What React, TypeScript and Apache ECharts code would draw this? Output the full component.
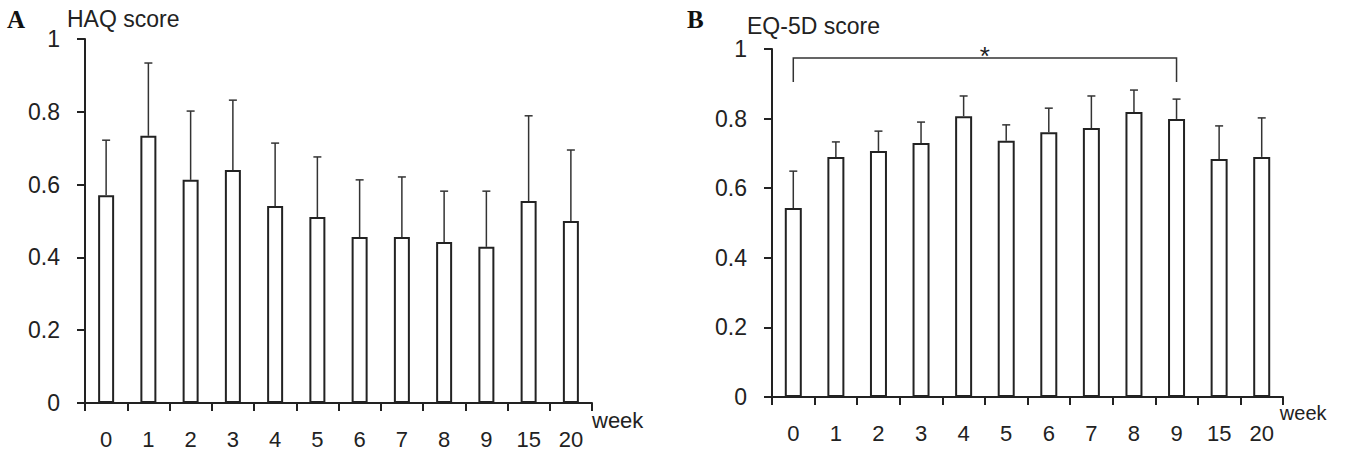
import React, { useEffect, useRef } from "react";
import * as echarts from "echarts";

const weeks = ["0", "1", "2", "3", "4", "5", "6", "7", "8", "9", "15", "20"];
const haqMean = [0.571, 0.734, 0.613, 0.64, 0.541, 0.511, 0.456, 0.456, 0.442, 0.429, 0.555, 0.5];
const haqUpper = [0.722, 0.934, 0.802, 0.832, 0.714, 0.676, 0.613, 0.621, 0.582, 0.582, 0.789, 0.695];
const eqMean = [0.543, 0.69, 0.707, 0.73, 0.807, 0.736, 0.761, 0.773, 0.819, 0.799, 0.684, 0.69];
const eqUpper = [0.649, 0.733, 0.764, 0.79, 0.865, 0.782, 0.83, 0.865, 0.882, 0.856, 0.779, 0.802];
// significance bracket: from category index, to category index, bar height, leg bottom
const bracketFrom = 0;
const bracketTo = 9;
const bracketTop = 0.974;
const bracketLeg = 0.905;
const bracketLabel = "*";

const FONT = "'Liberation Sans', Arial, sans-serif";
const INK = "#222";

function errData(mean: number[], upper: number[]) {
  return mean.map((m, i) => [i, m, upper[i]]);
}

const errRender = (params: any, api: any) => {
  const x = api.value(0);
  const lo = api.coord([x, api.value(1)]);
  const hi = api.coord([x, api.value(2)]);
  const st = { stroke: "#333", lineWidth: 1.5 };
  return {
    type: "group",
    children: [
      { type: "line", shape: { x1: lo[0], y1: lo[1], x2: hi[0], y2: hi[1] }, style: st },
      { type: "line", shape: { x1: hi[0] - 4, y1: hi[1], x2: hi[0] + 4, y2: hi[1] }, style: st },
    ],
  };
};

const bracketRender = (params: any, api: any) => {
  const a = api.coord([api.value(0), api.value(2)]);
  const b = api.coord([api.value(1), api.value(2)]);
  const aLeg = api.coord([api.value(0), api.value(3)]);
  const bLeg = api.coord([api.value(1), api.value(3)]);
  const st = { stroke: "#333", lineWidth: 1.5, fill: "none" };
  return {
    type: "group",
    children: [
      {
        type: "polyline",
        shape: { points: [aLeg, a, b, bLeg] },
        style: st,
      },
      {
        type: "text",
        x: (a[0] + b[0]) / 2,
        y: a[1] - 2,
        style: {
          text: bracketLabel,
          font: `26px ${FONT}`,
          fill: INK,
          align: "center",
          verticalAlign: "middle",
        },
      },
    ],
  };
};

function xAxisCfg(gridIndex: number, nameGap: number, nameSize: number) {
  return {
    type: "category",
    gridIndex,
    data: weeks,
    name: "week",
    nameLocation: "end",
    nameGap,
    nameTextStyle: {
      fontFamily: FONT,
      fontSize: nameSize,
      color: INK,
      verticalAlign: "top",
      align: "left",
      padding: [6, 0, 0, 0],
    },
    axisLine: { show: true, lineStyle: { color: INK, width: 2 } },
    axisTick: { show: true, length: 8, lineStyle: { color: INK, width: 2 } },
    axisLabel: { margin: 25, fontFamily: FONT, fontSize: 22, color: INK },
    splitLine: { show: false },
  };
}

function yAxisCfg(gridIndex: number) {
  return {
    type: "value",
    gridIndex,
    min: 0,
    max: 1,
    interval: 0.2,
    axisLine: { show: true, lineStyle: { color: INK, width: 2 } },
    axisTick: { show: true, length: 8, lineStyle: { color: INK, width: 2 } },
    axisLabel: { margin: 25, fontFamily: FONT, fontSize: 23, color: INK },
    splitLine: { show: false },
  };
}

const barStyle = { color: "#fff", borderColor: INK, borderWidth: 2 };

export default function App() {
  const ref = useRef<HTMLDivElement>(null);
  useEffect(() => {
    if (!ref.current) return;
    const chart = echarts.init(ref.current, null, { renderer: "svg" });
    chart.setOption({
      animation: false,
      backgroundColor: "#fff",
      grid: [
        { left: 85, top: 39, width: 507, height: 364 },
        { left: 772, top: 49, width: 511, height: 348 },
      ],
      xAxis: [xAxisCfg(0, 0, 22), xAxisCfg(1, -4, 20)],
      yAxis: [yAxisCfg(0), yAxisCfg(1)],
      graphic: [
        { type: "text", x: 7, y: 19, style: { text: "A", font: "bold 25px 'Liberation Serif', serif", fill: "#111", verticalAlign: "middle" } },
        { type: "text", x: 67, y: 19, style: { text: "HAQ score", font: `23px ${FONT}`, fill: INK, verticalAlign: "middle" } },
        { type: "text", x: 687, y: 19, style: { text: "B", font: "bold 25px 'Liberation Serif', serif", fill: "#111", verticalAlign: "middle" } },
        { type: "text", x: 747, y: 26, style: { text: "EQ-5D score", font: `23px ${FONT}`, fill: INK, verticalAlign: "middle" } },
      ],
      series: [
        { type: "bar", xAxisIndex: 0, yAxisIndex: 0, data: haqMean, barWidth: 16, itemStyle: barStyle, z: 2 },
        { type: "custom", xAxisIndex: 0, yAxisIndex: 0, data: errData(haqMean, haqUpper), encode: { x: 0, y: [1, 2] }, renderItem: errRender, z: 3 },
        { type: "bar", xAxisIndex: 1, yAxisIndex: 1, data: eqMean, barWidth: 17, itemStyle: barStyle, z: 2 },
        { type: "custom", xAxisIndex: 1, yAxisIndex: 1, data: errData(eqMean, eqUpper), encode: { x: 0, y: [1, 2] }, renderItem: errRender, z: 3 },
        {
          type: "custom",
          xAxisIndex: 1,
          yAxisIndex: 1,
          data: [[bracketFrom, bracketTo, bracketTop, bracketLeg]],
          encode: { x: [0, 1], y: [2, 3] },
          renderItem: bracketRender,
          z: 3,
        },
      ],
    });
    return () => chart.dispose();
  }, []);
  return <div ref={ref} style={{ position: "fixed", left: 0, top: 0, width: 1346, height: 454 }} />;
}
